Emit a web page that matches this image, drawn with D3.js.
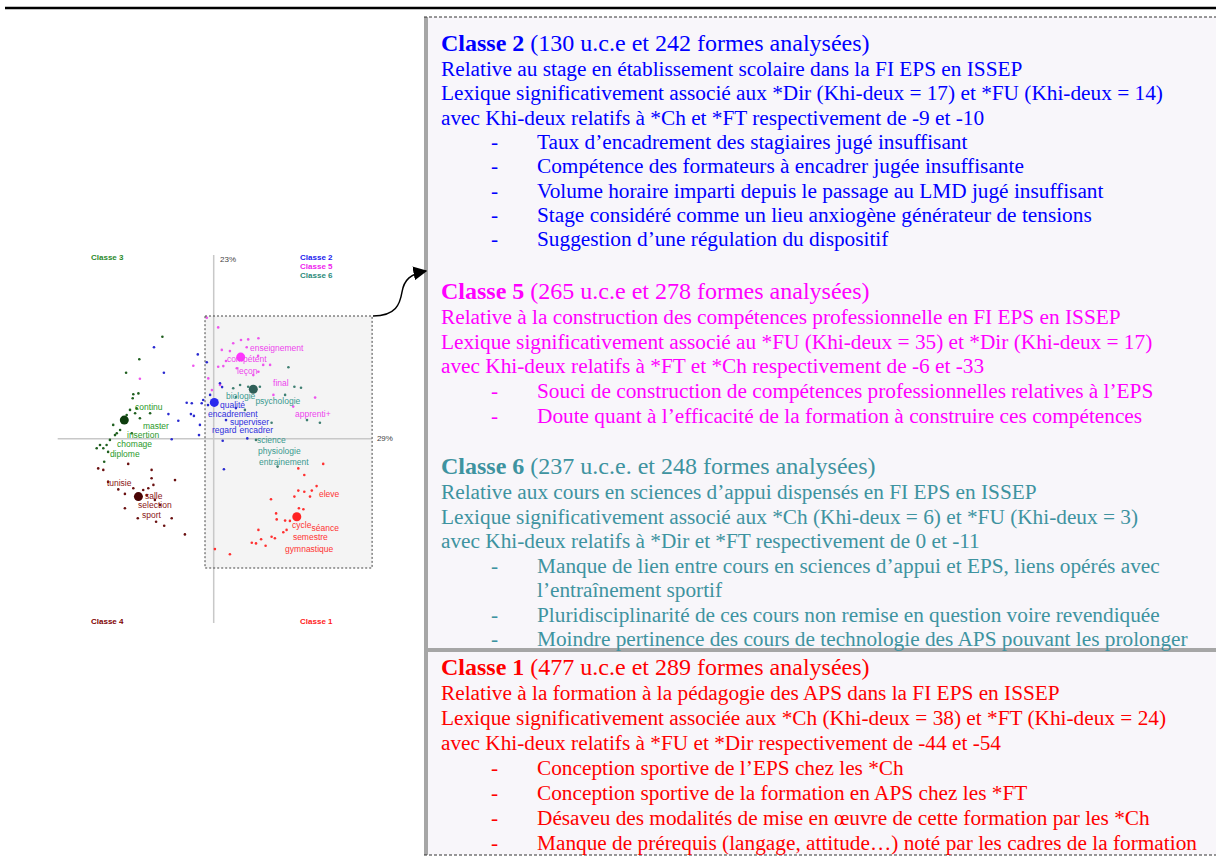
<!DOCTYPE html>
<html>
<head>
<meta charset="utf-8">
<script src="https://cdn.jsdelivr.net/npm/d3@7"></script>
<style>
  body { margin: 0; background: #fff; }
  svg { display: block; }
</style>
</head>
<body>
<div id="chart"></div>
<script>
// ---- factor map data (factor 1 = x, factor 2 = y) ----
let classe1Points = [[36.5,-8.4],[28.2,-9.9],[30.2,-12.1],[28.2,-17.3],[30.2,-17.7],[32.7,-17.3],[34.3,-15.8],
    [26.9,-19.3],[32.1,-19.3],[19.1,-20.2],[28.4,-23.2],[29.9,-23.5],[20.8,-24.9],[21.0,-26.9],[23.8,-27.3],
    [25.4,-27.4],[24.3,-30.4],[23.2,-31.2],[14.9,-30.4],[12.7,-34.7],[14.1,-34.9],[15.8,-33.5],[19.3,-32.7],
    [20.4,-33.2],[17.3,-35.7],[0.4,-36.8],[5.4,-38.5]];
let classe1Labels = [["eleve",35.1,-18.4],["cycle",26.1,-28.8],["séance",32.6,-29.6],["semestre",26.4,-32.9],["gymnastique",23.8,-36.6]];
let classe1Centroid = [27.7,-26.0];

let classe2Points = [[-19.9,30.5],[-16.6,22.0],[-5.3,28.1],[-2.3,25.5],[2.1,18.5],[2.8,17.2],[-9.0,12.0],
    [-7.3,11.8],[-4.0,11.8],[-3.5,12.9],[-15.1,8.2],[-11.8,6.0],[-7.6,8.2],[-6.6,7.6],[-4.6,4.6],[-4.9,1.2],
    [-14.0,-0.2],[3.0,-0.7],[11.2,0.1],[3.4,-10.2],[-1.9,11.2],[-1.2,14.6],[4.1,6.2],[7.4,10.2]];
let classe2Labels = [["qualité",2.1,11.2],["encadrement",-1.9,8.4],["superviser",5.4,5.6],["regard",-0.6,2.8],["encadrer",8.6,2.8]];
let classe2Centroid = [0.2,12.1];

let classe3Points = [[-17.1,34.0],[-24.8,26.5],[-29.2,22.0],[-26.8,14.8],[-25.1,15.1],[-27.0,13.5],[-25.7,10.1],
    [-27.9,9.6],[-26.2,8.5],[-29.0,7.9],[-24.6,6.8],[-21.2,8.5],[-33.5,4.6],[-32.3,1.8],[-32.9,1.2],[-34.6,-0.4],
    [-35.7,-2.1],[-36.8,-3.2],[-39.0,-3.2],[-37.9,-2.1],[-27.3,1.8],[-36.5,-7.7],[-31.2,2.9],[-35.2,-4.4]];
let classe3Labels = [["continu",-26.2,10.7],["master",-23.6,4.2],["insertion",-28.9,1.1],["chomage",-32.2,-1.9],["diplome",-34.6,-5.0]];
let classe3Centroid = [-29.8,6.2];

let classe4Points = [[-38.5,-9.9],[-36.8,-10.4],[-28.5,-8.4],[-20.7,-10.4],[-20.7,-13.2],[-12.9,-13.8],[-31.8,-16.9],
    [-29.6,-18.4],[-26.8,-16.5],[-23.5,-17.1],[-21.8,-16.5],[-20.1,-15.4],[-22.3,-18.8],[-19.6,-20.4],[-29.6,-23.2],
    [-25.3,-26.5],[-19.2,-27.7],[-16.5,-29.0],[-14.0,-26.5],[-9.6,-31.9],[-17.9,-22.1],[-35.2,-14.4]];
let classe4Labels = [["tunisie",-35.6,-14.9],["salle",-22.9,-19.1],["selection",-25.2,-22.1],["sport",-23.9,-25.3]];
let classe4Centroid = [-25.1,-19.3];

let classe5Points = [[-2.3,40.3],[1.5,37.1],[6.5,31.8],[9.1,32.9],[11.5,33.1],[14.9,33.5],[2.7,29.6],[5.4,29.2],
    [11.0,30.5],[-6.8,24.3],[1.5,24.0],[3.2,24.2],[16.5,24.6],[18.8,24.6],[13.2,21.2],[14.9,22.3],[7.7,23.5],
    [-24.6,20.0],[-1.8,20.1],[26.5,10.7],[33.8,13.7],[19.9,14.6],[2.1,17.9],[-0.6,16.2],[14.8,27.6],[4.1,25.9]];
let classe5Labels = [["enseignement",12.1,30.3],["compétent",4.4,26.5],["leçon",7.8,22.7],["final",19.8,18.7],["apprenti+",27.1,8.2]];
let classe5Centroid = [9.0,27.2];

let classe6Points = [[24.9,23.8],[26.9,17.3],[29.1,17.0],[6.5,16.8],[8.8,17.9],[11.5,17.3],[15.4,17.3],[19.3,5.3],
    [35.4,5.3],[31.1,6.2],[21.3,-9.3],[14.1,-0.4],[7.4,13.9],[23.8,14.6],[10.4,9.6]];
let classe6Labels = [["biologie",4.1,14.1],["psychologie",13.9,12.6],["science",14.4,-0.4],["physiologie",14.8,-4.1],["entrainement",15.1,-7.9]];
let classe6Centroid = [13.2,16.5];

// ---- class descriptions (right hand panel) ----
let classe2Text = {
    head: "Classe 2", sub: " (130 u.c.e et 242 formes analysées)",
    lines: ["Relative au stage en établissement scolaire dans la FI EPS en ISSEP",
        "Lexique significativement associé aux *Dir (Khi-deux = 17) et *FU (Khi-deux = 14)",
        "avec Khi-deux relatifs à *Ch et *FT respectivement de -9 et -10"],
    bullets: [["Taux d’encadrement des stagiaires jugé insuffisant"],
        ["Compétence des formateurs à encadrer jugée insuffisante"],
        ["Volume horaire imparti depuis le passage au LMD jugé insuffisant"],
        ["Stage considéré comme un lieu anxiogène générateur de tensions"],
        ["Suggestion d’une régulation du dispositif"]]
};
let classe5Text = {
    head: "Classe 5", sub: " (265 u.c.e et 278 formes analysées)",
    lines: ["Relative à la construction des compétences professionnelle en FI EPS en ISSEP",
        "Lexique significativement associé au *FU (Khi-deux = 35) et *Dir (Khi-deux = 17)",
        "avec Khi-deux relatifs à *FT et *Ch respectivement de -6 et -33"],
    bullets: [["Souci de construction de compétences professionnelles relatives à l’EPS"],
        ["Doute quant à l’efficacité de la formation à construire ces compétences"]]
};
let classe6Text = {
    head: "Classe 6", sub: " (237 u.c.e. et 248 formes analysées)",
    lines: ["Relative aux cours en sciences d’appui dispensés en FI EPS en ISSEP",
        "Lexique significativement associé aux *Ch (Khi-deux = 6) et *FU (Khi-deux = 3)",
        "avec Khi-deux relatifs à *Dir et *FT respectivement de 0 et -11"],
    bullets: [["Manque de lien entre cours en sciences d’appui et EPS, liens opérés avec", "l’entraînement sportif"],
        ["Pluridisciplinarité de ces cours non remise en question voire revendiquée"],
        ["Moindre pertinence des cours de technologie des APS pouvant les prolonger"]]
};
let classe1Text = {
    head: "Classe 1", sub: " (477 u.c.e et 289 formes analysées)",
    lines: ["Relative à la formation à la pédagogie des APS dans la FI EPS en ISSEP",
        "Lexique significativement associée aux *Ch (Khi-deux = 38) et *FT (Khi-deux = 24)",
        "avec Khi-deux relatifs à *FU et *Dir respectivement de -44 et -54"],
    bullets: [["Conception sportive de l’EPS chez les *Ch"],
        ["Conception sportive de la formation en APS chez les *FT"],
        ["Désaveu des modalités de mise en œuvre de cette formation par les *Ch"],
        ["Manque de prérequis (langage, attitude…) noté par les cadres de la formation"]]
};

// ---- drawing ----
let width = 1216, height = 858;

let svg = d3.select("#chart")
    .append("svg")
    .attr("width", width)
    .attr("height", height);

// top rule
svg.append("line")
    .attr("x1", 5).attr("x2", width).attr("y1", 8).attr("y2", 8)
    .attr("stroke", "#000").attr("stroke-width", 2.5);

//panel background + borders
let panelX = 424, panelTop = 17, panelBottom = 855;
svg.append("rect")
    .attr("x", panelX).attr("y", panelTop)
    .attr("width", width - panelX).attr("height", panelBottom - panelTop)
    .attr("fill", "#f8f6fa");
svg.append("rect")
    .attr("x", panelX).attr("y", panelTop)
    .attr("width", 4).attr("height", panelBottom - panelTop)
    .attr("fill", "#a6a6a6");
svg.append("rect")
    .attr("x", panelX).attr("y", 648)
    .attr("width", width - panelX).attr("height", 4)
    .attr("fill", "#a6a6a6");
[panelTop, panelBottom].forEach(function(yy){
    svg.append("line")
        .attr("x1", panelX).attr("x2", width).attr("y1", yy).attr("y2", yy)
        .attr("stroke", "#333").attr("stroke-width", 1)
        .attr("stroke-dasharray", "3,2");
});

// text blocks
let serif = "'Liberation Serif','Times New Roman',serif";
let bodySize = "21.3px";
function drawBlock(block, color, headY, gap) {
    let g = svg.append("g").style("font-family", serif).attr("fill", color);
    let h = g.append("text").attr("x", 441).attr("y", headY + 8).style("font-size", "24px");
    h.append("tspan").style("font-weight", "bold").text(block.head);
    h.append("tspan").text(block.sub);
    let yy = headY + 26;
    block.lines.forEach(function(t){
        g.append("text").attr("x", 441).attr("y", yy + 7).style("font-size", bodySize).text(t);
        yy += gap;
    });
    block.bullets.forEach(function(b){
        g.append("text").attr("x", 491).attr("y", yy + 7).style("font-size", bodySize).text("-");
        b.forEach(function(t){
            g.append("text").attr("x", 537).attr("y", yy + 7).style("font-size", bodySize).text(t);
            yy += gap;
        });
    });
}
drawBlock(classe2Text, "#0000ff", 43, 24.3);
drawBlock(classe5Text, "#ff00ff", 291, 24.7);
drawBlock(classe6Text, "#3e93a0", 466, 24.5);
drawBlock(classe1Text, "#ff0000", 667, 25);

// factor map
let x = d3.scaleLinear().domain([-50, 50]).range([63.7, 363.7]);
let y = d3.scaleLinear().domain([-50, 50]).range([588.7, 288.7]);

let map = svg.append("g").style("font-family", "'Liberation Sans', Arial, sans-serif");

// zoomed area
map.append("rect")
    .attr("x", x(-2.9)).attr("y", y(40.9))
    .attr("width", x(52.8) - x(-2.9)).attr("height", y(-43.1) - y(40.9))
    .attr("fill", "#f4f4f4");

// axes
map.append("line")
    .attr("x1", x(-52)).attr("x2", x(52.8)).attr("y1", y(0)).attr("y2", y(0))
    .attr("stroke", "#c8c8c8").attr("stroke-width", 1.5);
map.append("line")
    .attr("x1", x(0)).attr("x2", x(0)).attr("y1", y(61.2)).attr("y2", y(-61.4))
    .attr("stroke", "#c8c8c8").attr("stroke-width", 1.5);
map.append("text").attr("x", x(2.1)).attr("y", y(59.9) + 3).style("font-size", "8px").attr("fill", "#444").text("23%");
map.append("text").attr("x", x(54.4)).attr("y", y(0.2) + 3).style("font-size", "8px").attr("fill", "#444").text("29%");

let classes = [
    {pts: classe5Points, lab: classe5Labels, cen: classe5Centroid, pc: "#ee55ee", lc: "#ee44ee", cc: "#ff33ff"},
    {pts: classe6Points, lab: classe6Labels, cen: classe6Centroid, pc: "#3f7f72", lc: "#3a9a90", cc: "#2f5f58"},
    {pts: classe2Points, lab: classe2Labels, cen: classe2Centroid, pc: "#2a2ad0", lc: "#3030dd", cc: "#2a2aee"},
    {pts: classe3Points, lab: classe3Labels, cen: classe3Centroid, pc: "#1f5f1f", lc: "#2a9a2a", cc: "#0d3d0d"},
    {pts: classe4Points, lab: classe4Labels, cen: classe4Centroid, pc: "#6a1010", lc: "#8a1515", cc: "#4a0505"},
    {pts: classe1Points, lab: classe1Labels, cen: classe1Centroid, pc: "#ff3030", lc: "#ff3333", cc: "#ff2222"}
];

classes.forEach(function(c){
    let g = map.append("g");
    g.selectAll("circle.pt")
        .data(c.pts)
        .enter()
        .append("circle")
        .attr("cx", function(d){ return x(d[0]); })
        .attr("cy", function(d){ return y(d[1]); })
        .attr("r", 1.3)
        .attr("fill", c.pc);
    g.append("circle")
        .attr("cx", x(c.cen[0])).attr("cy", y(c.cen[1]))
        .attr("r", 4.5).attr("fill", c.cc);
    g.selectAll("text")
        .data(c.lab)
        .enter()
        .append("text")
        .attr("x", function(d){ return x(d[1]); })
        .attr("y", function(d){ return y(d[2]) + 3; })
        .style("font-size", "8.5px")
        .attr("fill", c.lc)
        .text(function(d){ return d[0]; });
});

// dashed frame of the zoomed area
map.append("rect")
    .attr("x", x(-2.9)).attr("y", y(40.9))
    .attr("width", x(52.8) - x(-2.9)).attr("height", y(-43.1) - y(40.9))
    .attr("fill", "none").attr("stroke", "#444").attr("stroke-width", 1)
    .attr("stroke-dasharray", "2,2");

// corner class names
let corner = [
    ["Classe 3", -40.9, 60.6, "#2a8a2a"],
    ["Classe 2", 28.8, 60.6, "#2020ee"],
    ["Classe 5", 28.8, 57.6, "#ee22ee"],
    ["Classe 6", 28.8, 54.6, "#2a8a7a"],
    ["Classe 4", -40.9, -60.8, "#800000"],
    ["Classe 1", 28.8, -60.8, "#ff1a1a"]
];
map.selectAll("text.corner")
    .data(corner)
    .enter()
    .append("text")
    .attr("class", "corner")
    .attr("x", function(d){ return x(d[1]); })
    .attr("y", function(d){ return y(d[2]) + 3; })
    .style("font-size", "8px")
    .style("font-weight", "bold")
    .attr("fill", function(d){ return d[3]; })
    .text(function(d){ return d[0]; });

// arrow to the panel
let defs = svg.append("defs");
defs.append("marker")
    .attr("id", "head")
    .attr("viewBox", "0 0 10 10")
    .attr("refX", 9).attr("refY", 5)
    .attr("markerWidth", 14).attr("markerHeight", 14)
    .attr("markerUnits", "userSpaceOnUse")
    .attr("orient", "auto")
    .append("path")
    .attr("d", "M0,0 L10,5 L0,10 z")
    .attr("fill", "#000");
svg.append("path")
    .attr("d", "M373,316 C396,316 400,304 402,292 C404,280 410,274 426,271")
    .attr("fill", "none")
    .attr("stroke", "#000")
    .attr("stroke-width", 1.5)
    .attr("marker-end", "url(#head)");
</script>
</body>
</html>
